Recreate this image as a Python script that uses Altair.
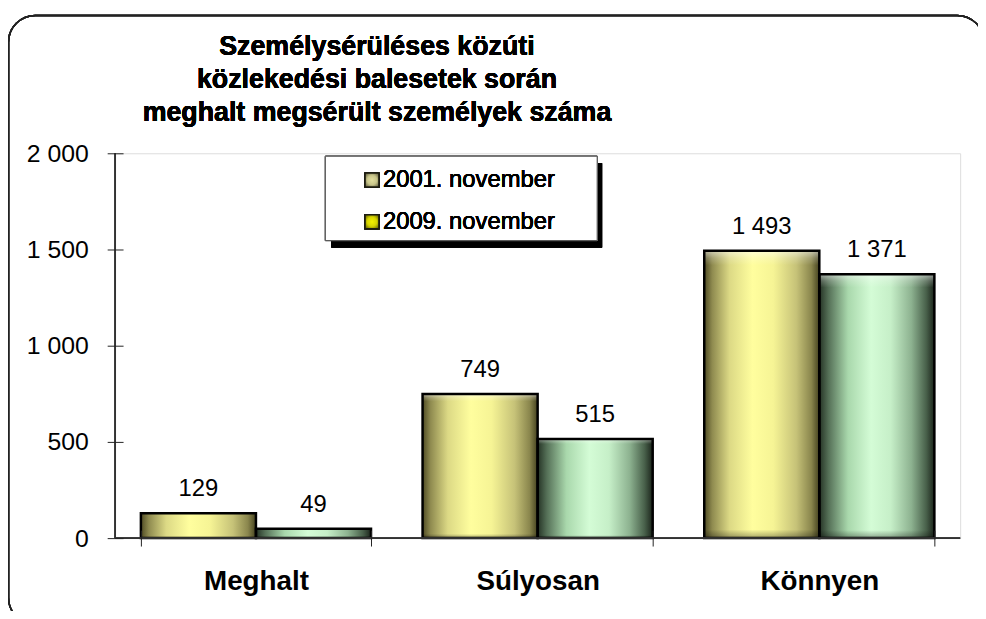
import altair as alt
import pandas as pd

# ---------------- data ----------------
categories = ["Meghalt", "Súlyosan", "Könnyen"]
series_names = ["2001. november", "2009. november"]
values_2001 = [129, 749, 1493]
values_2009 = [49, 515, 1371]
y_ticks = [0, 500, 1000, 1500, 2000]
title_lines = ["Személysérüléses közúti",
               "közlekedési balesetek során",
               "meghalt megsérült személyek száma"]

rows = []
for s, vals in zip(series_names, [values_2001, values_2009]):
    for c, v in zip(categories, vals):
        rows.append({"cat": c, "series": s, "value": v,
                     "label": f"{v:,}".replace(",", " ")})
df = pd.DataFrame(rows)

W, H = 852, 388
FONT = "Liberation Sans"


def hgrad(stops):
    return {"gradient": "linear", "x1": 0, "x2": 1, "y1": 0, "y2": 0,
            "stops": [{"offset": o, "color": c} for o, c in stops]}


def rgrad(stops):
    return {"gradient": "radial", "x1": 0.5, "y1": 0.5, "r1": 0,
            "x2": 0.5, "y2": 0.5, "r2": 0.75,
            "stops": [{"offset": o, "color": c} for o, c in stops]}


grad_2001 = hgrad([(0, "#4f4b24"), (0.07, "#8f8b50"), (0.22, "#dcd985"),
                   (0.42, "#fffe9e"), (0.6, "#f6f495"), (0.8, "#c6c278"),
                   (0.93, "#8a864d"), (1, "#45421f")])
grad_2009 = hgrad([(0, "#253325"), (0.08, "#557057"), (0.25, "#a9d8ac"),
                   (0.45, "#d4fcd6"), (0.62, "#c6efc8"), (0.8, "#8db290"),
                   (0.93, "#48604a"), (1, "#1b241b")])
bevel = {"gradient": "linear", "x1": 0, "x2": 0, "y1": 0, "y2": 1,
         "stops": [{"offset": 0, "color": "rgba(255,255,255,0.55)"},
                   {"offset": 0.025, "color": "rgba(255,255,255,0.2)"},
                   {"offset": 0.05, "color": "rgba(255,255,255,0)"},
                   {"offset": 0.97, "color": "rgba(0,0,0,0)"},
                   {"offset": 1, "color": "rgba(0,0,0,0.35)"}]}

xs = alt.X("cat:N", sort=categories,
           scale=alt.Scale(domain=categories, paddingInner=0.183, paddingOuter=0.0915),
           axis=alt.Axis(title=None, domain=False, ticks=True, tickSize=16,
                         tickBand="extent", offset=-8, tickColor="#222", tickWidth=1,
                         labelFontSize=28, labelFont=FONT, labelFontWeight="bold",
                         labelColor="black", labelAngle=0, labelPadding=44,
                         labelBaseline="alphabetic", zindex=1))
xo = alt.XOffset("series:N", sort=series_names,
                 scale=alt.Scale(domain=series_names, paddingInner=0, paddingOuter=0))
ys = alt.Y("value:Q", scale=alt.Scale(domain=[0, 2000], nice=False, zero=True),
           axis=alt.Axis(title=None, values=y_ticks, domain=False, tickSize=16,
                         offset=-8, tickColor="#222", tickWidth=1, grid=False,
                         labelFontSize=25, labelFont=FONT, labelColor="black",
                         labelPadding=19, zindex=1,
                         labelExpr="replace(format(datum.value, ','), ',', ' ')"))

base = alt.Chart(df)

# frame with rounded corners
frame = base.mark_rect(cornerRadius=27, fillOpacity=0, stroke="#222",
                       strokeWidth=1.5).encode(
    x=alt.value(-107.5), x2=alt.value(876), y=alt.value(-139), y2=alt.value(475))

# title
title = base.mark_text(text=title_lines, fontSize=27, fontWeight="bold", font=FONT,
                       lineHeight=33, align="center", baseline="middle",
                       color="black").encode(x=alt.value(264), y=alt.value(-107))

# legend
leg_shadow = base.mark_rect(fill="black").encode(
    x=alt.value(218), x2=alt.value(491), y=alt.value(10), y2=alt.value(95))
leg_box = base.mark_rect(fill="white", stroke="#555", strokeWidth=1).encode(
    x=alt.value(212), x2=alt.value(486), y=alt.value(3), y2=alt.value(88))
leg_sym1 = base.mark_rect(fill=rgrad([(0, "#e2df9e"), (0.45, "#c9c68a"), (1, "#3a3822")]),
                          stroke="#1c1c10", strokeWidth=1.5).encode(
    x=alt.value(252), x2=alt.value(266), y=alt.value(20), y2=alt.value(34))
leg_sym2 = base.mark_rect(fill=rgrad([(0, "#f4f200"), (0.45, "#d8d600"), (1, "#3b3a00")]),
                          stroke="#1c1c10", strokeWidth=1.5).encode(
    x=alt.value(252), x2=alt.value(266), y=alt.value(62), y2=alt.value(76))
leg_txt1 = base.mark_text(text=series_names[0], fontSize=24, font=FONT, align="left",
                          baseline="middle", color="black").encode(
    x=alt.value(270), y=alt.value(27))
leg_txt2 = base.mark_text(text=series_names[1], fontSize=24, font=FONT, align="left",
                          baseline="middle", color="black").encode(
    x=alt.value(270), y=alt.value(69))

# bars
bars1 = base.transform_filter(alt.datum.series == series_names[0]).mark_bar(
    fill=grad_2001, strokeWidth=0).encode(x=xs, xOffset=xo, y=ys)
bars2 = base.transform_filter(alt.datum.series == series_names[1]).mark_bar(
    fill=grad_2009, strokeWidth=0).encode(x=xs, xOffset=xo, y=ys)
bars_bevel = base.mark_bar(fill=bevel, strokeWidth=0).encode(x=xs, xOffset=xo, y=ys)
bars_outline = base.mark_bar(fillOpacity=0, stroke="black", strokeWidth=2.5).encode(
    x=xs, xOffset=xo, y=ys)

labels = base.mark_text(baseline="alphabetic", dy=-17, fontSize=24, font=FONT,
                        color="black").encode(x=xs, xOffset=xo, y=ys, text="label:N")

# axis lines
y_line = base.mark_rule(color="#333", strokeWidth=1).encode(
    x=alt.value(0), y=alt.value(0), y2=alt.value(H))
x_line = base.mark_rule(color="#333", strokeWidth=1).encode(
    x=alt.value(0), x2=alt.value(W), y=alt.value(H))

chart = alt.layer(
    frame, title, bars1, bars2, bars_bevel, bars_outline, labels,
    y_line, x_line, leg_shadow, leg_box, leg_sym1, leg_sym2, leg_txt1, leg_txt2
).properties(
    width=W, height=H,
    padding={"left": 108, "top": 144, "right": 18, "bottom": 71},
    autosize=alt.AutoSizeParams(type="none"),
).configure_view(stroke=None).configure(font=FONT)

chart.save("out.html", embed_options={"renderer": "svg", "actions": False})
